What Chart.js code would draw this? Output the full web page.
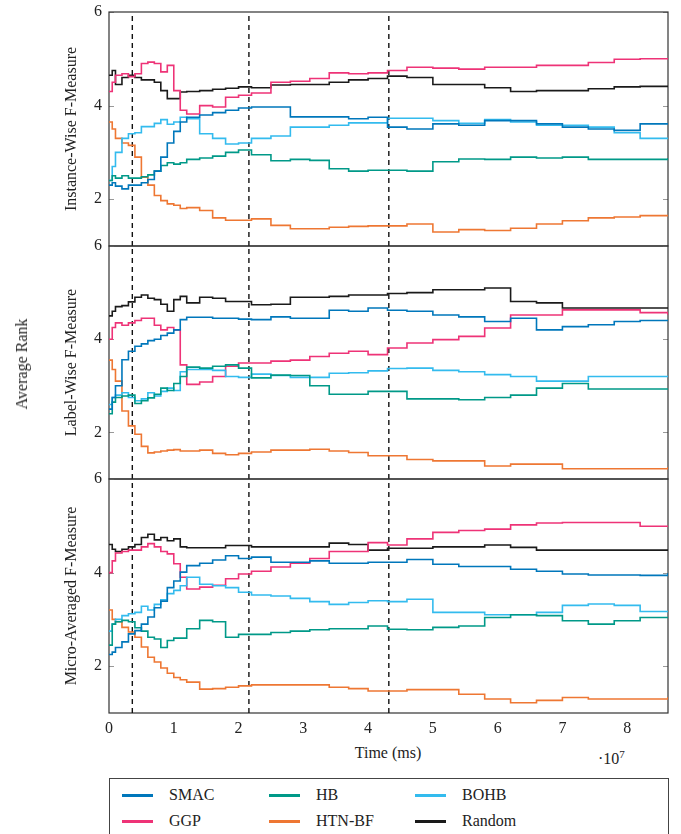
<!DOCTYPE html>
<html>
<head>
<meta charset="utf-8">
<script src="https://cdn.jsdelivr.net/npm/chart.js@4.4.1/dist/chart.umd.min.js"></script>
<style>
  body { margin: 0; background: #fff; font-family: "Liberation Serif", "DejaVu Serif", serif; color: #222; }
  #fig { position: relative; width: 681px; height: 834px; overflow: hidden; }
  #fig canvas { position: absolute; left: 0; }
  .txt { position: absolute; white-space: nowrap; }
  #avgRank { left: 22px; top: 364px; font-size: 16px; transform: translate(-50%, -50%) rotate(-90deg); }
  #xTitle { left: 388px; top: 753px; font-size: 16px; transform: translate(-50%, -50%); }
  #xExp { left: 598px; top: 748px; font-size: 16px; }
  #xExp sup { font-size: 11px; }
  #legend { position: absolute; left: 109px; top: 778px; width: 558px; height: 70px; border: 1px solid #444; }
  .sw { position: absolute; width: 31px; height: 3px; }
  .lab { position: absolute; font-size: 16px; transform: translateY(-50%); }
</style>
</head>
<body>
<div id="fig">
  <canvas id="p1" width="681" height="274" style="top:-8px"></canvas>
  <canvas id="p2" width="681" height="273" style="top:226px"></canvas>
  <canvas id="p3" width="681" height="284" style="top:459px"></canvas>
  <div class="txt" id="avgRank">Average Rank</div>
  <div class="txt" id="xTitle">Time (ms)</div>
  <div class="txt" id="xExp">·10<sup>7</sup></div>
  <div id="legend"></div>
</div>
<script>
// time in units of 10^7 ms
const timeGrid = [0, 0.05, 0.1, 0.2, 0.3, 0.4, 0.5, 0.6, 0.7, 0.8, 0.9, 1.0, 1.1, 1.2, 1.4, 1.6, 1.8, 2.0, 2.2, 2.5,
                  2.8, 3.1, 3.4, 3.7, 4.0, 4.3, 4.6, 5.0, 5.4, 5.8, 6.2, 6.6, 7.0, 7.4, 7.8, 8.2, 8.63];
const xTicks = [0, 1, 2, 3, 4, 5, 6, 7, 8];
const yTicks = [2, 4, 6];
const milestones = [0.36, 2.16, 4.32];

const methods = ['SMAC', 'HB', 'BOHB', 'GGP', 'HTN-BF', 'Random'];
const colors = ['#0077BB', '#009988', '#33BBEE', '#EE3377', '#EE7733', '#1a1a1a'];

// Instance-Wise F-Measure
const instSMAC = [2.3, 2.35, 2.28, 2.22, 2.3, 2.3, 2.35, 2.42, 2.6, 2.9, 3.2, 3.45, 3.65, 3.75, 3.8, 3.85, 3.9, 3.95, 3.97, 3.97,
                  3.76, 3.76, 3.76, 3.72, 3.75, 3.54, 3.5, 3.61, 3.58, 3.68, 3.68, 3.61, 3.54, 3.5, 3.47, 3.61, 3.61];
const instHB = [2.4, 2.5, 2.45, 2.5, 2.45, 2.45, 2.48, 2.52, 2.6, 2.72, 2.78, 2.75, 2.78, 2.85, 2.88, 2.92, 3.0, 3.05, 2.95, 2.82,
                2.85, 2.83, 2.65, 2.6, 2.62, 2.62, 2.6, 2.8, 2.86, 2.85, 2.9, 2.88, 2.9, 2.85, 2.85, 2.85, 2.88];
const instBOHB = [2.4, 2.7, 3.0, 3.3, 3.4, 3.42, 3.55, 3.55, 3.62, 3.7, 3.6, 3.65, 3.75, 3.72, 3.4, 3.3, 3.18, 3.2, 3.3, 3.35,
                  3.54, 3.54, 3.58, 3.63, 3.63, 3.73, 3.73, 3.68, 3.62, 3.7, 3.65, 3.58, 3.58, 3.54, 3.42, 3.3, 3.3];
const instGGP = [4.3, 4.5, 4.65, 4.68, 4.62, 4.68, 4.9, 4.93, 4.9, 4.72, 4.86, 4.32, 3.9, 3.82, 4.0, 3.97, 4.18, 4.22, 4.27, 4.5,
                 4.52, 4.58, 4.7, 4.68, 4.7, 4.75, 4.82, 4.8, 4.78, 4.82, 4.82, 4.86, 4.86, 4.92, 4.99, 5.0, 5.0];
const instHTN = [3.65, 3.5, 3.3, 3.2, 3.15, 2.9, 2.47, 2.3, 2.08, 1.97, 1.9, 1.87, 1.8, 1.82, 1.76, 1.6, 1.55, 1.55, 1.58, 1.44,
                 1.37, 1.37, 1.4, 1.42, 1.43, 1.43, 1.47, 1.3, 1.35, 1.33, 1.38, 1.47, 1.54, 1.6, 1.62, 1.65, 1.65];
const instRandom = [4.65, 4.75, 4.45, 4.6, 4.65, 4.6, 4.55, 4.55, 4.5, 4.32, 4.15, 4.15, 4.29, 4.3, 4.32, 4.35, 4.37, 4.4, 4.38, 4.44,
                    4.45, 4.45, 4.5, 4.55, 4.58, 4.63, 4.6, 4.45, 4.45, 4.38, 4.3, 4.32, 4.32, 4.36, 4.4, 4.41, 4.41];

// Label-Wise F-Measure
const labelSMAC = [2.5, 2.75, 3.0, 3.56, 3.74, 3.85, 3.9, 3.97, 4.0, 4.08, 4.13, 4.2, 4.42, 4.47, 4.47, 4.45, 4.45, 4.43, 4.42, 4.48,
                   4.45, 4.45, 4.62, 4.6, 4.67, 4.62, 4.6, 4.52, 4.48, 4.38, 4.45, 4.2, 4.27, 4.31, 4.38, 4.4, 4.42];
const labelHB = [2.4, 2.65, 2.75, 2.78, 2.8, 2.62, 2.68, 2.74, 2.82, 2.95, 2.9, 3.05, 3.2, 3.4, 3.38, 3.42, 3.45, 3.38, 3.17, 3.23,
                 3.22, 3.0, 2.82, 2.82, 2.88, 2.88, 2.72, 2.72, 2.7, 2.75, 2.8, 2.95, 3.05, 2.93, 2.93, 2.93, 2.92];
const labelBOHB = [2.6, 2.75, 2.8, 2.85, 2.75, 2.68, 2.72, 2.85, 2.78, 2.88, 2.95, 2.9, 3.3, 3.35, 3.35, 3.33, 3.2, 3.18, 3.25, 3.22,
                   3.18, 3.18, 3.27, 3.28, 3.32, 3.37, 3.38, 3.33, 3.3, 3.24, 3.2, 3.1, 3.1, 3.2, 3.2, 3.2, 3.2];
const labelGGP = [4.0, 4.25, 4.35, 4.3, 4.35, 4.4, 4.45, 4.45, 4.3, 4.2, 4.25, 4.2, 3.45, 3.03, 3.08, 3.2, 3.42, 3.49, 3.49, 3.53,
                  3.55, 3.63, 3.7, 3.74, 3.67, 3.81, 3.92, 3.99, 4.06, 4.24, 4.52, 4.52, 4.63, 4.63, 4.63, 4.57, 4.52];
const labelHTN = [3.55, 3.35, 3.1, 2.46, 2.14, 1.96, 1.7, 1.56, 1.58, 1.6, 1.62, 1.63, 1.6, 1.6, 1.62, 1.55, 1.52, 1.55, 1.58, 1.62,
                  1.62, 1.64, 1.6, 1.57, 1.5, 1.5, 1.42, 1.39, 1.39, 1.28, 1.32, 1.32, 1.22, 1.22, 1.22, 1.22, 1.26];
const labelRandom = [4.5, 4.6, 4.7, 4.72, 4.8, 4.9, 4.95, 4.88, 4.85, 4.75, 4.6, 4.85, 4.92, 4.78, 4.9, 4.88, 4.81, 4.81, 4.74, 4.75,
                     4.9, 4.9, 4.92, 4.95, 4.95, 4.98, 5.0, 5.06, 5.06, 5.1, 4.81, 4.78, 4.67, 4.67, 4.67, 4.67, 4.67];

// Micro-Averaged F-Measure
const microSMAC = [2.25, 2.3, 2.4, 2.52, 2.69, 2.76, 2.9, 3.05, 3.25, 3.39, 3.68, 3.82, 4.01, 4.15, 4.2, 4.27, 4.36, 4.3, 4.33, 4.22,
                   4.22, 4.25, 4.2, 4.2, 4.22, 4.22, 4.28, 4.18, 4.13, 4.13, 4.07, 4.03, 3.97, 3.95, 3.95, 3.94, 3.99];
const microHB = [2.45, 2.9, 2.95, 2.98, 2.95, 2.82, 2.75, 2.62, 2.58, 2.4, 2.55, 2.6, 2.6, 2.8, 2.98, 2.95, 2.62, 2.68, 2.68, 2.72,
                 2.75, 2.78, 2.8, 2.8, 2.86, 2.79, 2.78, 2.83, 2.86, 3.04, 3.1, 3.08, 2.97, 2.9, 2.97, 3.04, 3.04];
const microBOHB = [2.75, 2.9, 3.0, 3.08, 3.12, 3.15, 3.28, 3.2, 3.32, 3.42, 3.55, 3.62, 3.72, 3.9, 3.75, 3.72, 3.68, 3.58, 3.52, 3.5,
                   3.45, 3.38, 3.32, 3.36, 3.4, 3.38, 3.43, 3.15, 3.15, 3.1, 3.1, 3.15, 3.3, 3.33, 3.3, 3.17, 3.18];
const microGGP = [4.0, 4.25, 4.42, 4.45, 4.48, 4.48, 4.55, 4.62, 4.55, 4.45, 4.4, 4.19, 3.9, 3.65, 3.69, 3.73, 3.87, 3.97, 4.03, 4.12,
                  4.2, 4.3, 4.45, 4.45, 4.64, 4.59, 4.72, 4.86, 4.9, 4.93, 5.02, 5.06, 5.07, 5.07, 5.07, 4.99, 4.99];
const microHTN = [3.2, 3.0, 2.95, 2.83, 2.73, 2.62, 2.41, 2.19, 2.09, 1.96, 1.85, 1.76, 1.71, 1.66, 1.51, 1.52, 1.55, 1.58, 1.6, 1.6,
                  1.6, 1.6, 1.55, 1.52, 1.47, 1.47, 1.5, 1.5, 1.4, 1.3, 1.22, 1.27, 1.33, 1.3, 1.3, 1.3, 1.34];
const microRandom = [4.6, 4.5, 4.45, 4.5, 4.55, 4.6, 4.75, 4.82, 4.7, 4.75, 4.68, 4.72, 4.55, 4.53, 4.53, 4.53, 4.58, 4.58, 4.55, 4.55,
                     4.55, 4.55, 4.63, 4.6, 4.48, 4.52, 4.52, 4.55, 4.55, 4.59, 4.54, 4.48, 4.48, 4.48, 4.48, 4.48, 4.48];

const yMin = 1, yMax = 6, xMax = 8.63;

Chart.defaults.font.family = '"Liberation Serif", "DejaVu Serif", serif';
Chart.defaults.color = '#222';

// box around the plot area plus small inward ticks on both sides
const framePlugin = {
  id: 'frame',
  beforeDatasetsDraw(chart) {
    const { ctx, chartArea: a, scales } = chart;
    ctx.save();
    ctx.strokeStyle = '#999';
    ctx.lineWidth = 1;
    scales.y.ticks.forEach(t => {
      const py = Math.round(scales.y.getPixelForValue(t.value)) + 0.5;
      ctx.beginPath();
      ctx.moveTo(a.left, py); ctx.lineTo(a.left + 5, py);
      ctx.moveTo(a.right, py); ctx.lineTo(a.right - 5, py);
      ctx.stroke();
    });
    ctx.strokeStyle = '#333';
    ctx.lineWidth = 1.2;
    ctx.strokeRect(a.left, a.top, a.right - a.left, a.bottom - a.top);
    ctx.restore();
  }
};

function makePanel(canvasId, title, series, showX) {
  const datasets = series.map((vals, i) => ({
    label: methods[i],
    data: timeGrid.map((t, k) => ({ x: t, y: vals[k] })),
    borderColor: colors[i],
    borderWidth: 1.6,
    pointRadius: 0,
    stepped: true,
    fill: false
  }));
  milestones.forEach(m => datasets.push({
    label: 'milestone',
    data: [{ x: m, y: yMin }, { x: m, y: yMax }],
    borderColor: '#111',
    borderWidth: 1.4,
    borderDash: [5, 4],
    pointRadius: 0
  }));

  return new Chart(document.getElementById(canvasId), {
    type: 'line',
    data: { datasets },
    options: {
      responsive: false,
      animation: false,
      layout: { padding: { top: 20, right: 13, left: 0, bottom: showX ? 0 : 20 } },
      plugins: { legend: { display: false }, tooltip: { enabled: false } },
      scales: {
        x: {
          type: 'linear', min: 0, max: xMax, display: showX,
          grid: { display: false, drawTicks: false },
          border: { display: false },
          afterBuildTicks: s => { s.ticks = xTicks.map(v => ({ value: v })); },
          afterFit: s => { if (showX) s.height = 30; },
          ticks: { padding: 6, font: { size: 16 }, color: '#222' }
        },
        y: {
          min: yMin, max: yMax,
          grid: { display: false, drawTicks: false },
          border: { display: false },
          afterBuildTicks: s => { s.ticks = yTicks.map(v => ({ value: v })); },
          afterFit: s => { s.width = 109; },
          ticks: { padding: 7, font: { size: 16 }, color: '#222' },
          title: { display: true, text: title, font: { size: 16 }, color: '#222', padding: { top: 62, bottom: 0 } }
        }
      }
    },
    plugins: [framePlugin]
  });
}

makePanel('p1', 'Instance-Wise F-Measure', [instSMAC, instHB, instBOHB, instGGP, instHTN, instRandom], false);
makePanel('p2', 'Label-Wise F-Measure', [labelSMAC, labelHB, labelBOHB, labelGGP, labelHTN, labelRandom], false);
makePanel('p3', 'Micro-Averaged F-Measure', [microSMAC, microHB, microBOHB, microGGP, microHTN, microRandom], true);

// legend: three columns, filled row by row
const legend = document.getElementById('legend');
const colX = [12, 159, 305];
const rowY = [16, 42];
methods.forEach((name, i) => {
  const col = i % 3, row = Math.floor(i / 3);
  const sw = document.createElement('div');
  sw.className = 'sw';
  sw.style.left = colX[col] + 'px';
  sw.style.top = (rowY[row] - 1.5) + 'px';
  sw.style.background = colors[i];
  legend.appendChild(sw);
  const lab = document.createElement('div');
  lab.className = 'lab';
  lab.style.left = (colX[col] + 47) + 'px';
  lab.style.top = rowY[row] + 'px';
  lab.textContent = name;
  legend.appendChild(lab);
});
</script>
</body>
</html>
